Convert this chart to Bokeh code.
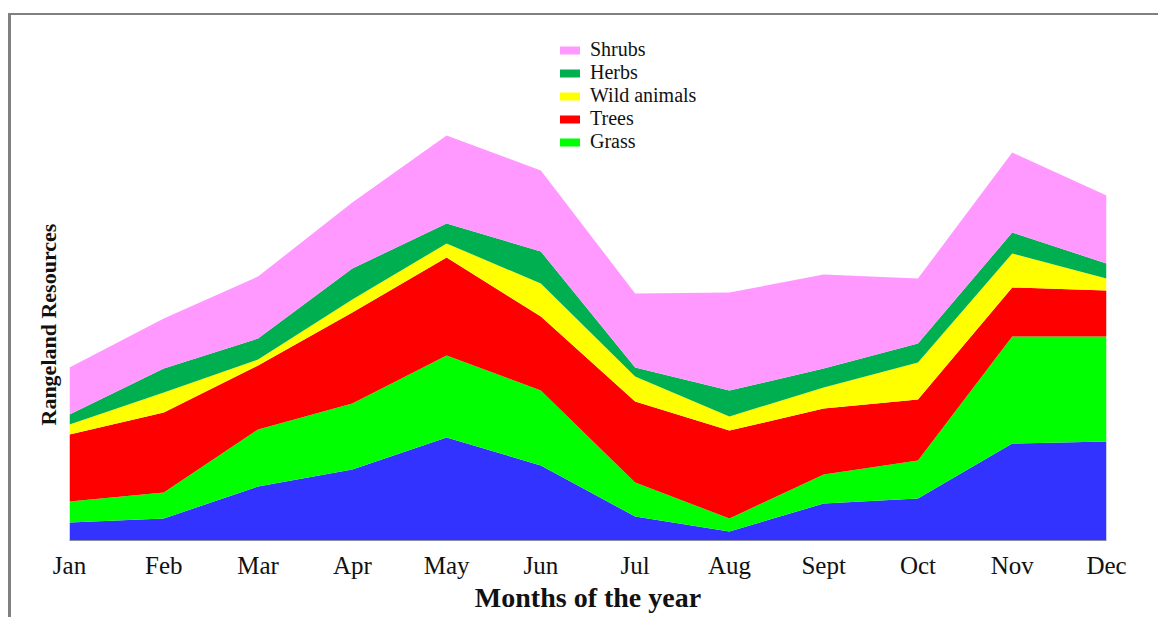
from bokeh.plotting import figure
from bokeh.models import ColumnDataSource, Legend, LegendItem, FixedTicker, Title
from bokeh.embed import file_html
from bokeh.resources import INLINE

months = ["Jan", "Feb", "Mar", "Apr", "May", "Jun", "Jul", "Aug", "Sept", "Oct", "Nov", "Dec"]
base = [18, 22, 54, 71, 103, 75, 24, 9, 37, 42, 97, 99]
grass = [21, 26, 57, 66, 82, 75, 34, 13, 29, 38, 107, 105]
trees = [67, 80, 64, 91, 98, 74, 81, 88, 66, 61, 49, 46]
wild_animals = [10, 20, 6, 13, 14, 33, 25, 14, 21, 37, 34, 12]
herbs = [10, 24, 21, 31, 20, 32, 9, 26, 19, 19, 21, 15]
shrubs = [47, 50, 62, 66, 88, 81, 74, 98, 94, 65, 80, 68]

series_names = ["base", "Grass", "Trees", "Wild animals", "Herbs", "Shrubs"]
colors = ["#3333FF", "#00FF00", "#FF0000", "#FFFF00", "#00B050", "#FF99FF"]

xs = list(range(len(months)))
source = ColumnDataSource(dict(x=xs, base=base, Grass=grass, Trees=trees,
                               **{"Wild animals": wild_animals}, Herbs=herbs, Shrubs=shrubs))

FONT = "Liberation Serif"
W, H = 1150, 604

p = figure(width=W, height=H, output_backend="svg", toolbar_location=None,
           x_range=(0, 11), y_range=(0, 510),
           min_border_left=58, min_border_right=55, min_border_top=15, min_border_bottom=79)
p.styles = {"border-top": "2px solid #808080", "border-left": "3px solid #808080",
            "margin-top": "13px", "margin-left": "8px"}

renderers = p.varea_stack(stackers=series_names, x="x", color=colors, source=source)

p.grid.visible = False
p.outline_line_color = None
p.background_fill_color = "white"
p.border_fill_color = "white"

# x axis
xa = p.xaxis[0]
xa.ticker = FixedTicker(ticks=xs)
xa.major_label_overrides = {i: m for i, m in enumerate(months)}
xa.major_tick_line_color = None
xa.major_tick_out = 0
xa.major_tick_in = 0
xa.minor_tick_line_color = None
xa.axis_line_color = "#8a8a9a"
xa.axis_line_width = 1
xa.major_label_text_font = FONT
xa.major_label_text_font_size = "25px"
xa.major_label_text_color = "#111111"
xa.major_label_standoff = 11
xa.axis_label = "Months of the year"
xa.axis_label_text_font = FONT
xa.axis_label_text_font_style = "bold"
xa.axis_label_text_font_size = "28px"
xa.axis_label_text_color = "#111111"
xa.axis_label_standoff = 0

# y axis carries no ticks; its title sits on the left side
p.yaxis.visible = False
p.add_layout(Title(text="Rangeland Resources", align="left", offset=115, standoff=17,
                   text_font=FONT, text_font_size="22px", text_font_style="bold",
                   text_color="#111111"), "left")

items = []
for name, r in reversed(list(zip(series_names, renderers))):
    if name == "base":
        continue
    items.append(LegendItem(label=name, renderers=[r]))

legend = Legend(items=items, location=(488, 387), orientation="vertical",
                glyph_width=25, glyph_height=10, label_height=20, spacing=-1,
                padding=0, margin=0, border_line_color=None, background_fill_alpha=0,
                label_text_font=FONT, label_text_font_size="20px",
                label_text_color="#111111", label_standoff=8)
p.add_layout(legend, "center")

open("out.html", "w").write(file_html(p, INLINE))
